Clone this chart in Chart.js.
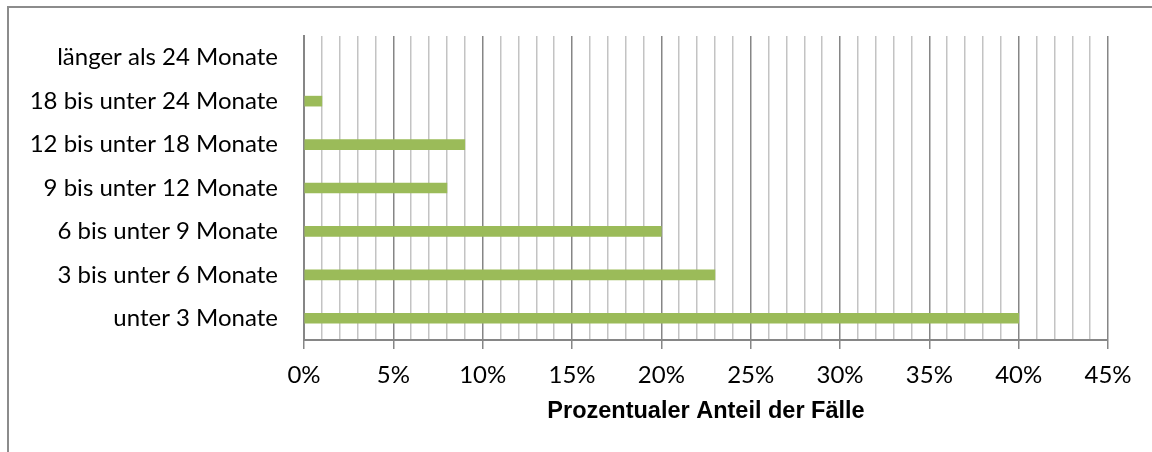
<!DOCTYPE html>
<html>
<head>
<meta charset="utf-8">
<script src="https://cdn.jsdelivr.net/npm/chart.js@4.4.1/dist/chart.umd.min.js"></script>
<style>
  html, body { margin: 0; padding: 0; background: #fff; }
  #wrap { position: relative; width: 1152px; height: 452px; overflow: hidden; }
  #frame { position: absolute; left: 7px; top: 6px; right: -10px; bottom: -10px;
           border-top: 2px solid #8c8c8c; border-left: 2px solid #8c8c8c; }
  canvas { position: absolute; left: 0; top: 0; }
</style>
</head>
<body>
<div id="wrap">
  <div id="frame"></div>
  <canvas id="chart" width="1152" height="452"></canvas>
</div>
<script>
// Kategorien von oben nach unten
const categories = [
    'länger als 24 Monate',
    '18 bis unter 24 Monate',
    '12 bis unter 18 Monate',
    '9 bis unter 12 Monate',
    '6 bis unter 9 Monate',
    '3 bis unter 6 Monate',
    'unter 3 Monate'
];
// Prozentualer Anteil der Fälle
const shares = [0, 1, 9, 8, 20, 23, 40];
const axisMin = 0;
const axisMax = 45;
const majorStep = 5;
const axisTitle = 'Prozentualer Anteil der Fälle';

const majorColor = '#868686';
const minorColor = '#c3c3c3';
const barColor = '#9bbb59';
const labelFont = { family: 'Lato, "Open Sans", sans-serif', size: 24 };

const isMajor = (v) => v % majorStep === 0;

new Chart(document.getElementById('chart'), {
    type: 'bar',
    data: {
        labels: categories,
        datasets: [{
            data: shares,
            // leere Balken (0 %) gar nicht zeichnen
            backgroundColor: (c) => c.raw === 0 ? 'rgba(0,0,0,0)' : barColor,
            barThickness: 10
        }]
    },
    options: {
        indexAxis: 'y',
        responsive: false,
        animation: false,
        layout: { padding: { top: 36, right: 44, left: 0, bottom: 0 } },
        plugins: { legend: { display: false }, tooltip: { enabled: false } },
        scales: {
            x: {
                min: axisMin, max: axisMax,
                afterFit: (s) => { s.height = 112; },
                ticks: {
                    stepSize: 1, autoSkip: false, maxRotation: 0,
                    color: '#000', font: labelFont, padding: 12,
                    callback: (v) => isMajor(v) ? v + '%' : ''
                },
                grid: {
                    color: (c) => isMajor(c.tick.value) ? majorColor : minorColor,
                    tickColor: (c) => isMajor(c.tick.value) ? majorColor : 'rgba(0,0,0,0)',
                    tickLength: 9,
                    lineWidth: 1.5
                },
                border: { display: true, color: majorColor, width: 2 },
                title: {
                    display: true, text: axisTitle, color: '#000',
                    font: { family: '"Liberation Sans", Arial, sans-serif', size: 23.5, weight: 'bold' },
                    padding: { top: 0, bottom: 26 }
                }
            },
            y: {
                afterFit: (s) => { s.width = 304; },
                ticks: { color: '#000', font: labelFont, padding: 18 },
                grid: { display: false },
                border: { display: true, color: majorColor, width: 2 }
            }
        }
    }
});
</script>
</body>
</html>
